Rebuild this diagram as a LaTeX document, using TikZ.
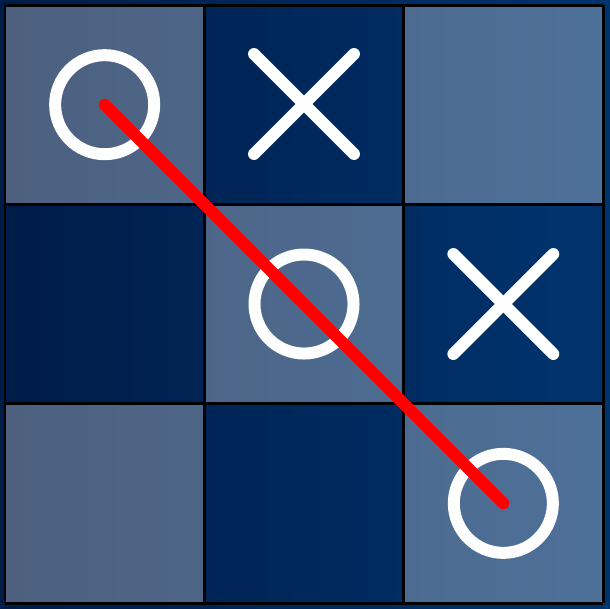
\documentclass[tikz,border=0pt]{standalone}
\usepackage{tikz}
\definecolor{navyleft}{HTML}{001C48}
\definecolor{navyright}{HTML}{00346F}
\tikzset{
  litecell/.style={fill=white, fill opacity=0.3},
  gridline/.style={black, line width=0.85pt},
  omark/.style={circle, draw=white, line width=3.4pt, minimum size=0.99cm, inner sep=0pt},
  xmark/.style={white, line width=3.4pt, line cap=round},
  winline/.style={red, line width=3.4pt, line cap=round}
}

\begin{document}
\begin{tikzpicture}[x=0.01cm, y=-0.01cm]
        % Fondo con degradado
        \shade[left color=navyleft, right color=navyright] (0,0) rectangle (610,608);
        % Casillas claras
        \foreach \c/\r in {0/0, 2/0, 1/1, 0/2, 2/2}
            \fill[litecell] (5+199.33*\c,5+199.33*\r) rectangle ++(199.33,199.33);
        % Pintar grid
        \foreach \k in {0,1,2,3} {
            \draw[gridline] (5+199.33*\k,5) -- (5+199.33*\k,603);
            \draw[gridline] (5,5+199.33*\k) -- (603,5+199.33*\k);
        }
        % Fichas O
        \node[omark] (o00) at (104.67,104.67) {};
        \node[omark] (o11) at (304,304) {};
        \node[omark] (o22) at (503.33,503.33) {};
        % Fichas X
        \draw[xmark] (254,54) -- (354,154);
        \draw[xmark] (254,154) -- (354,54);
        \draw[xmark] (453.33,254) -- (553.33,354);
        \draw[xmark] (453.33,354) -- (553.33,254);
        % Linea ganadora
        \draw[winline] (o00.center) -- (o22.center);
    \end{tikzpicture}
\end{document}
